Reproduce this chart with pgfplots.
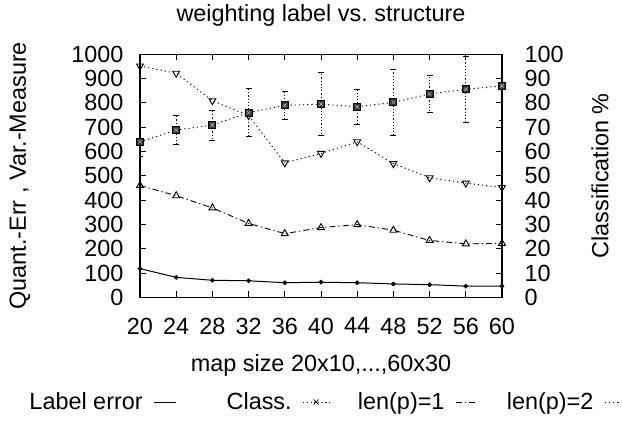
\documentclass[border=0pt]{standalone}
\usepackage{fontspec}
\setmainfont{Liberation Sans}
\usepackage{pgfplots}
\pgfplotsset{compat=1.18}
\frenchspacing
\newcommand{\F}{\fontsize{23.5}{27}\selectfont}
\newcommand{\LE}[1]{\makebox[114bp][r]{#1}}
\begin{document}
\begin{tikzpicture}
\useasboundingbox (-140bp,-125.7bp) rectangle (482bp,297.3bp);
\pgfplotsset{
 common/.style={
  width=362bp, height=243bp, scale only axis, at={(0,0)}, anchor=south west,
  xmin=20, xmax=60, tick align=inside, major tick length=6bp,
  /pgf/number format/assume math mode=true, /pgf/number format/1000 sep={},
  scaled ticks=false,
  tick label style={font=\F},
  axis line style={line width=1.3bp},
  every tick/.style={black, line width=0.8bp},
 }
}
\begin{axis}[common,
  ymin=0, ymax=1000, xtick={20,24,...,60}, ytick={0,100,...,1000},
  ytick pos=left, xtick pos=both,
  xticklabel style={yshift=-17bp},
  yticklabel style={xshift=-13bp},
  title={weighting label vs.\ structure},
  every axis title/.style={at={(0.5,1.1617)}, anchor=center, font=\F},
  xlabel={map size 20x10,...,60x30},
  every axis x label/.style={at={(0.5,-0.28)}, anchor=center, font=\F},
  ylabel={Quant.-Err , Var.-Measure},
  every axis y label/.style={at={(-0.3315,0.5)}, anchor=center, rotate=90, font=\F},
  legend style={at={(0.518,-0.431)}, anchor=center, draw=none, fill=none, font=\F,
    nodes={inner sep=1bp},
    /tikz/every odd column/.append style={column sep=10bp},
    /tikz/every even column/.append style={column sep=0bp}},
  legend columns=4, legend plot pos=right,
]
\addplot[line width=1bp, mark=*, mark size=1.8bp,
  legend image code/.code={\draw[line width=1bp] (0bp,0bp) -- (22bp,0bp);}]
  coordinates {(20,118)(24,82)(28,70)(32,68)(36,60)(40,62)(44,60)(48,55)(52,52)(56,46)(60,46)};
\addlegendentry{\LE{Label error}}
\addlegendimage{legend image code/.code={
  \draw[line width=0.8bp, dash pattern=on 1.2bp off 2.5bp] (0bp,0bp) -- (26bp,0bp);
  \draw[line width=0.8bp] (10.5bp,-2.5bp) -- (15.5bp,2.5bp) (10.5bp,2.5bp) -- (15.5bp,-2.5bp);}}
\addlegendentry{\LE{Class.}}
\addplot[line width=0.9bp, dash pattern=on 6bp off 3bp on 1.2bp off 3bp,
  mark=triangle, mark size=4bp, mark options={solid, fill=white},
  legend image code/.code={\draw[line width=0.9bp, dash pattern=on 6bp off 3bp on 1.2bp off 3bp] (0bp,0bp) -- (22bp,0bp);}]
  coordinates {(20,460)(24,418)(28,368)(32,304)(36,262)(40,287)(44,299)(48,276)(52,234)(56,220)(60,222)};
\addlegendentry{\LE{len(p)=1}}
\addplot[line width=0.9bp, dash pattern=on 1.2bp off 3bp,
  mark=triangle, mark size=4bp, mark options={solid, fill=white, rotate=180},
  legend image code/.code={\draw[line width=0.9bp, dash pattern=on 1.2bp off 3bp] (0bp,0bp) -- (22bp,0bp);}]
  coordinates {(20,952)(24,922)(28,809)(32,748)(36,553)(40,592)(44,640)(48,550)(52,492)(56,470)(60,452)};
\addlegendentry{\LE{len(p)=2}}
\end{axis}
\begin{axis}[common,
  ymin=0, ymax=100, ytick={0,10,...,100}, xtick=\empty,
  ytick pos=right, yticklabel pos=right,
  yticklabel style={anchor=west, xshift=19bp},
  ylabel={Classification \%},
  every axis y label/.style={at={(1.2707,0.5)}, anchor=center, rotate=90, font=\F},
]
\addplot[line width=0.9bp, dash pattern=on 1.2bp off 3bp,
  mark=square*, mark size=3.5bp, mark options={solid, fill=black!80, draw=black},
  error bars/.cd, y dir=both, y explicit,
  error bar style={line width=0.8bp, dash pattern=on 1.2bp off 2bp},
  error mark options={solid, mark size=3bp, line width=0.8bp, rotate=90}]
  table[x=x, y=y, y error=e] {
x y e
20 64 6
24 68.8 6
28 70.9 6.2
32 76 9.8
36 79 5.6
40 79.5 13
44 78.4 7.2
48 80.2 13.6
52 83.7 7.8
56 85.6 13.7
60 87 14
};
\addplot[only marks, mark=x, mark size=2.5bp, black!30, line width=0.6bp]
  coordinates {(20,64)(24,68.8)(28,70.9)(32,76)(36,79)(40,79.5)(44,78.4)(48,80.2)(52,83.7)(56,85.6)(60,87)};
\end{axis}
\end{tikzpicture}
\end{document}
